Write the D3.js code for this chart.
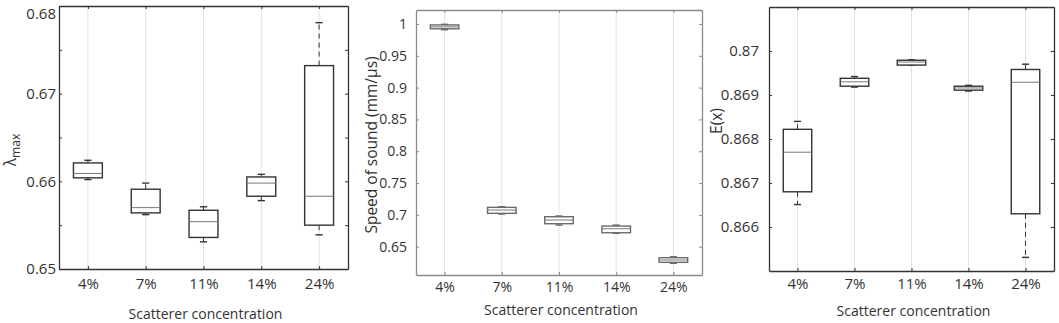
<!DOCTYPE html>
<html lang="en">
<head>
<meta charset="utf-8"/>
<script src="https://d3js.org/d3.v7.min.js"></script>
<style>
  body { margin: 0; background: #fff; }
  svg text { font-family: "Open Sans", sans-serif; fill: #333; }
</style>
</head>
<body>
<div id="chart"></div>
<script>
// categories shared by the three panels
var categories = ["4%", "7%", "11%", "14%", "24%"];

// five-number summaries per category: [lower whisker, q1, median, q3, upper whisker]
var lambdaMax = [
  [0.6602, 0.6604, 0.6609, 0.6621, 0.6624],
  [0.6562, 0.6564, 0.6570, 0.6591, 0.6598],
  [0.6531, 0.6536, 0.6554, 0.6567, 0.6571],
  [0.6578, 0.6583, 0.6598, 0.6605, 0.6608],
  [0.6539, 0.6550, 0.6583, 0.6732, 0.6781]
];
var speedOfSound = [
  [0.9910, 0.9925, 0.9955, 0.9985, 0.9995],
  [0.7013, 0.7024, 0.7076, 0.7118, 0.7128],
  [0.6840, 0.6861, 0.6919, 0.6971, 0.6982],
  [0.6710, 0.6719, 0.6782, 0.6824, 0.6840],
  [0.6238, 0.6254, 0.6290, 0.6326, 0.6342]
];
var expectX = [
  [0.86651, 0.86680, 0.86770, 0.86822, 0.86840],
  [0.86918, 0.86920, 0.86930, 0.86938, 0.86942],
  [0.86968, 0.86968, 0.86975, 0.86979, 0.86980],
  [0.86909, 0.86911, 0.86916, 0.86920, 0.86922],
  [0.86531, 0.86630, 0.86929, 0.86958, 0.86970]
];

// tick values (labelled + unlabelled)
var lambdaTicks = [0.65, 0.655, 0.66, 0.665, 0.67, 0.675, 0.68];
var lambdaLabels = ["0.65", "", "0.66", "", "0.67", "", "0.68"];
var speedTicks = [0.65, 0.7, 0.75, 0.8, 0.85, 0.9, 0.95, 1];
var speedLabels = ["0.65", "0.7", "0.75", "0.8", "0.85", "0.9", "0.95", "1"];
var expectTicks = [0.866, 0.867, 0.868, 0.869, 0.87];
var expectLabels = ["0.866", "0.867", "0.868", "0.869", "0.87"];

var svg = d3.select("#chart").append("svg")
    .attr("width", 1059)
    .attr("height", 323);

var panels = [
  { data: lambdaMax, ticks: lambdaTicks, labels: lambdaLabels, domain: [0.65, 0.68],
    left: 59, top: 6, right: 348, bottom: 269, frame: "#333", box: "#333",
    tickPad: 3, fontSize: 15, xPad: 9, xLabelY: 319, yLabelX: 16, yLabelY: 150, ylabel: "lambda" },
  { data: speedOfSound, ticks: speedTicks, labels: speedLabels, domain: [0.6055, 1.022],
    left: 416, top: 10, right: 702, bottom: 275, frame: "#8a8a8a", box: "#6a6a6a",
    tickPad: 9, fontSize: 14, xPad: 7, xLabelY: 315, yLabelX: 377, yLabelY: 145,
    ylabel: "Speed of sound (mm/\u03bcs)" },
  { data: expectX, ticks: expectTicks, labels: expectLabels, domain: [0.865, 0.871],
    left: 769, top: 7, right: 1054, bottom: 271, frame: "#333", box: "#333",
    tickPad: 10, fontSize: 15, xPad: 7, xLabelY: 316, yLabelX: 722, yLabelY: 121, ylabel: "E(x)" }
];

panels.forEach(function (p) {
  var w = p.right - p.left;
  var h = p.bottom - p.top;
  var g = svg.append("g").attr("transform", "translate(" + p.left + "," + p.top + ")");

  var x = d3.scaleLinear().domain([0.5, 5.5]).range([0, w]);
  var y = d3.scaleLinear().domain(p.domain).range([h, 0]);
  var pos = categories.map(function (c, i) { return i + 1; });

  // vertical grid lines
  g.selectAll(".grid")
    .data(pos)
    .enter()
    .append("line")
      .attr("x1", function (d) { return x(d); })
      .attr("x2", function (d) { return x(d); })
      .attr("y1", 0)
      .attr("y2", h)
      .style("stroke", "#e2e2e2")
      .style("stroke-width", 1);

  // axes, ticks pointing inwards
  var left = g.append("g")
      .call(d3.axisLeft(y).tickValues(p.ticks).tickSizeInner(-3).tickSizeOuter(0)
        .tickPadding(p.tickPad)
        .tickFormat(function (d, i) { return p.labels[i]; }));
  var right = g.append("g").attr("transform", "translate(" + w + ",0)")
      .call(d3.axisRight(y).tickValues(p.ticks).tickSizeInner(-3).tickSizeOuter(0).tickFormat(""));
  var bottom = g.append("g").attr("transform", "translate(0," + h + ")")
      .call(d3.axisBottom(x).tickValues(pos).tickSizeInner(-3).tickSizeOuter(0)
        .tickPadding(p.xPad)
        .tickFormat(function (d, i) { return categories[i]; }));
  var top = g.append("g")
      .call(d3.axisTop(x).tickValues(pos).tickSizeInner(-3).tickSizeOuter(0).tickFormat(""));

  [left, right, bottom, top].forEach(function (a) {
    a.select(".domain").style("stroke", p.frame).style("stroke-width", 1.3);
    a.selectAll(".tick line").style("stroke", p.frame);
    a.selectAll("text").style("font-size", p.fontSize + "px").style("font-family", "'Open Sans', sans-serif")
      .style("fill", "#333");
  });
  // keep the topmost label inside the picture
  left.selectAll(".tick text")
      .filter(function (d) { return y(d) < 4; })
      .attr("dy", "0.8em");

  // boxes
  var bw = x(1.25) - x(1);
  var cw = bw / 2;
  var boxes = g.selectAll(".box")
    .data(p.data)
    .enter()
    .append("g")
      .attr("transform", function (d, i) { return "translate(" + x(i + 1) + ",0)"; });

  boxes.append("line")
      .attr("x1", 0).attr("x2", 0)
      .attr("y1", function (d) { return y(d[3]); })
      .attr("y2", function (d) { return y(d[4]); })
      .style("stroke", p.box).style("stroke-width", 1).style("stroke-dasharray", "5,4");
  boxes.append("line")
      .attr("x1", 0).attr("x2", 0)
      .attr("y1", function (d) { return y(d[1]); })
      .attr("y2", function (d) { return y(d[0]); })
      .style("stroke", p.box).style("stroke-width", 1).style("stroke-dasharray", "5,4");
  boxes.append("line")
      .attr("x1", -cw / 2).attr("x2", cw / 2)
      .attr("y1", function (d) { return y(d[4]); })
      .attr("y2", function (d) { return y(d[4]); })
      .style("stroke", p.box).style("stroke-width", 1.4);
  boxes.append("line")
      .attr("x1", -cw / 2).attr("x2", cw / 2)
      .attr("y1", function (d) { return y(d[0]); })
      .attr("y2", function (d) { return y(d[0]); })
      .style("stroke", p.box).style("stroke-width", 1.4);
  boxes.append("rect")
      .attr("x", -bw)
      .attr("width", bw * 2)
      .attr("y", function (d) { return y(d[3]); })
      .attr("height", function (d) { return Math.max(y(d[1]) - y(d[3]), 1); })
      .style("fill", "white")
      .style("stroke", p.box).style("stroke-width", 1.4);
  boxes.append("line")
      .attr("x1", -bw).attr("x2", bw)
      .attr("y1", function (d) { return y(d[2]); })
      .attr("y2", function (d) { return y(d[2]); })
      .style("stroke", "#777").style("stroke-width", 1);

  // axis titles
  svg.append("text")
      .attr("x", p.left + w / 2 + 2)
      .attr("y", p.xLabelY)
      .attr("text-anchor", "middle")
      .style("font-size", "14px")
      .text("Scatterer concentration");

  var yl = svg.append("text")
      .attr("transform", "translate(" + p.yLabelX + "," + p.yLabelY + ") rotate(-90)")
      .attr("text-anchor", "middle")
      .style("font-size", "15.5px");
  if (p.ylabel === "lambda") {
    yl.append("tspan").text("\u03bb");
    yl.append("tspan").attr("dy", 4).style("font-size", "12px").text("max");
  } else {
    yl.text(p.ylabel);
  }
});
</script>
</body>
</html>
